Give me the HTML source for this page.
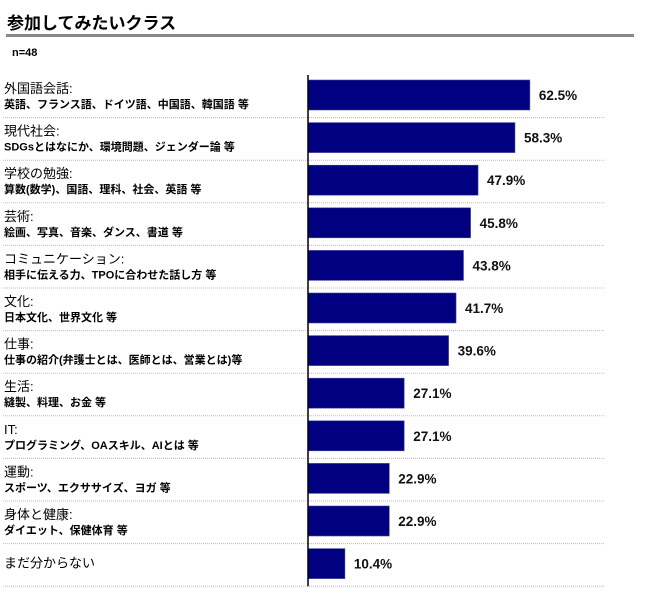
<!DOCTYPE html>
<html><head><meta charset="utf-8">
<style>
body{margin:0;width:650px;height:593px;background:#fff;font-family:"Liberation Sans","Noto Sans CJK JP",sans-serif;overflow:hidden;position:relative}
.t{position:absolute;white-space:nowrap;color:#000}
</style></head>
<body>
<div class="t" style="left:7px;top:9px;font-size:17px;font-weight:bold">参加してみたいクラス</div>
<div style="position:absolute;left:6px;top:34px;width:628px;height:3px;background:#888"></div>
<div class="t" style="left:12px;top:47px;font-size:11px;font-weight:bold">n=48</div>
<svg id="chart" width="650" height="593" style="position:absolute;left:0;top:0"></svg>
<script>
const titles=["外国語会話:","現代社会:","学校の勉強:","芸術:","コミュニケーション:","文化:","仕事:","生活:","IT:","運動:","身体と健康:","まだ分からない"];
const subs=["英語、フランス語、ドイツ語、中国語、韓国語 等","SDGsとはなにか、環境問題、ジェンダー論 等","算数(数学)、国語、理科、社会、英語 等","絵画、写真、音楽、ダンス、書道 等","相手に伝える力、TPOに合わせた話し方 等","日本文化、世界文化 等","仕事の紹介(弁護士とは、医師とは、営業とは)等","縫製、料理、お金 等","プログラミング、OAスキル、AIとは 等","スポーツ、エクササイズ、ヨガ 等","ダイエット、保健体育 等",""];
const values=[62.5,58.3,47.9,45.8,43.8,41.7,39.6,27.1,27.1,22.9,22.9,10.4];
const NS="http://www.w3.org/2000/svg";
const svg=document.getElementById('chart');
const x0=308, pxPer=3.55, top0=75, rowH=42.6;
const xs=v=>x0+v*pxPer;
const ys=i=>top0+i*rowH;
function mk(t,a){const e=document.createElementNS(NS,t);for(const k in a)e.setAttribute(k,a[k]);svg.appendChild(e);return e;}
values.forEach((v,i)=>{
  const y=ys(i);
  const sep=mk('line',{x1:3,x2:605,y1:y+rowH,y2:y+rowH,stroke:'#bbb','stroke-dasharray':'1,1'});
  
  
  const b=mk('rect',{x:x0,y:y+5,width:xs(v)-x0,height:30,fill:'#000080',stroke:'#4a4aa0','stroke-width':0.6});
  
  
  const l=mk('text',{x:xs(v)+9,y:y+25,'font-size':13.5,'font-weight':'bold',fill:'#111'});
  l.textContent=v.toFixed(1)+'%';
  
  
  const t1=mk('text',{x:4,y:subs[i]?y+18:y+24,'font-size':13,fill:'#000'});
  t1.textContent=titles[i];
  
  
  if(subs[i]){
    const t2=mk('text',{x:4,y:y+33,'font-size':11,'font-weight':'bold',fill:'#000'});
    t2.textContent=subs[i];
    
    
  }
});
const ax=mk('line',{x1:x0,x2:x0,y1:top0,y2:ys(values.length),stroke:'#000','stroke-width':1.5});


</script>
</body></html>
